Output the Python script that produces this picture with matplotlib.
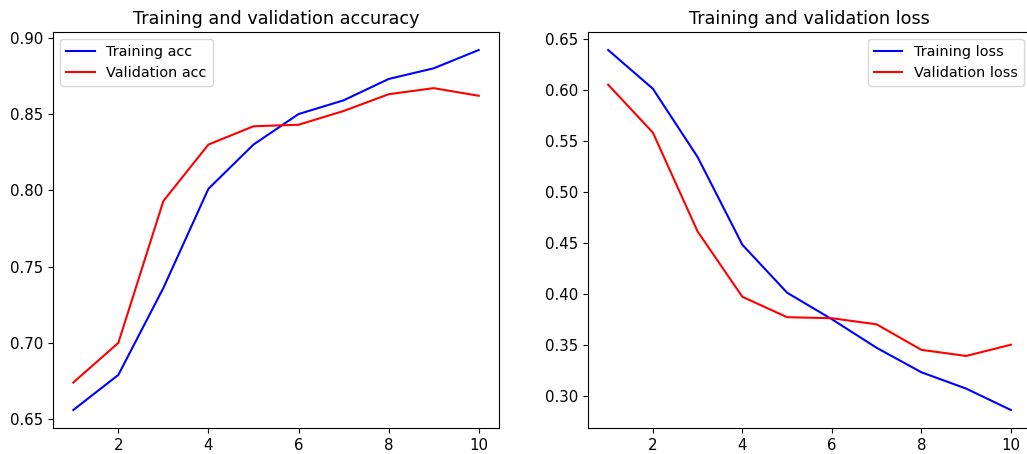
import matplotlib
matplotlib.use("Agg")
import matplotlib.pyplot as plt

epochs = [1, 2, 3, 4, 5, 6, 7, 8, 9, 10]

train_acc = [0.656, 0.679, 0.736, 0.801, 0.830, 0.850, 0.859, 0.873, 0.880, 0.892]
val_acc = [0.674, 0.700, 0.793, 0.830, 0.842, 0.843, 0.852, 0.863, 0.867, 0.862]

train_loss = [0.639, 0.601, 0.534, 0.448, 0.401, 0.375, 0.347, 0.323, 0.307, 0.286]
val_loss = [0.605, 0.558, 0.461, 0.397, 0.377, 0.376, 0.370, 0.345, 0.339, 0.350]

plt.rcParams['xtick.labelsize'] = 10.8
plt.rcParams['ytick.labelsize'] = 10.8
plt.rcParams['axes.titlesize'] = 12.7
plt.rcParams['legend.fontsize'] = 10.4

fig = plt.figure(figsize=(10.27, 4.54), dpi=100)
W, H = 1027, 454
ax1 = fig.add_axes([53 / W, 26 / H, 446 / W, 396 / H])
ax2 = fig.add_axes([588 / W, 26 / H, 443 / W, 396 / H])

ax1.plot(epochs, train_acc, 'b', label='Training acc')
ax1.plot(epochs, val_acc, 'r', label='Validation acc')
ax1.set_title('Training and validation accuracy')
ax1.legend(loc='upper left')

ax2.plot(epochs, train_loss, 'b', label='Training loss')
ax2.plot(epochs, val_loss, 'r', label='Validation loss')
ax2.set_title('Training and validation loss')
ax2.legend(loc='upper right')

fig.savefig('out.png', dpi=100)
